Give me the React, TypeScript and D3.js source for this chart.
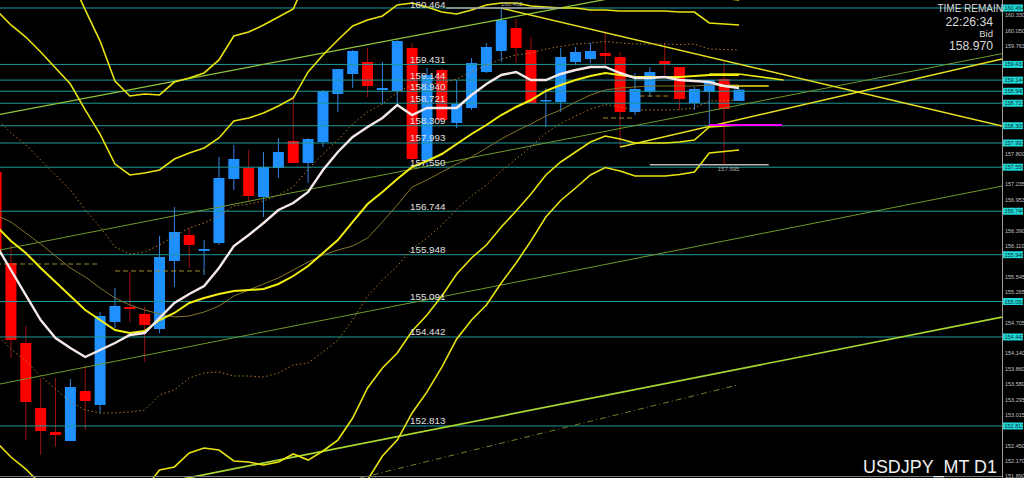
import React from "react";
import * as d3 from "d3";

// ---------- DATA ----------
const candleIndex = d3.range(-1, 50);

const opens = [157.462, 155.796, 154.332, 153.142, 152.703, 152.538, 153.453, 153.197, 154.716, 154.991,
  154.863, 154.588, 155.833, 156.309, 156.016, 156.162, 157.334, 157.535, 157.004, 157.535,
  158.029, 157.627, 158.011, 158.890, 159.256, 159.476, 158.963, 158.945, 159.732, 157.682,
  159.329, 158.359, 158.633, 159.292, 159.677, 160.098, 159.695, 158.762, 158.743, 159.476,
  159.530, 159.640, 159.567, 158.560, 158.926, 159.494, 159.384, 158.725, 158.926, 159.164, 158.762];
const highs = [157.535, 156.126, 154.643, 153.691, 153.691, 153.673, 153.929, 154.899, 155.339, 155.631,
  154.991, 156.290, 156.821, 156.437, 156.217, 157.737, 157.956, 157.865, 157.828, 158.084,
  158.853, 158.084, 158.963, 159.347, 159.695, 159.732, 159.476, 159.878, 159.823, 159.366,
  159.366, 159.146, 159.549, 159.823, 160.462, 160.263, 159.933, 159.000, 159.732, 159.750,
  159.823, 160.025, 159.659, 159.274, 159.384, 159.823, 159.384, 159.018, 159.146, 159.476, 158.985];
const lows = [155.888, 154.057, 152.556, 152.282, 152.428, 152.538, 152.739, 153.050, 154.606, 154.716,
  153.984, 154.515, 155.357, 155.705, 155.577, 156.126, 157.132, 156.913, 156.638, 157.352,
  157.627, 157.261, 157.920, 158.560, 159.000, 158.835, 158.725, 158.725, 157.627, 157.554,
  158.377, 158.267, 158.597, 159.274, 159.476, 159.457, 158.707, 158.286, 158.560, 159.421,
  159.457, 159.384, 157.920, 158.505, 158.835, 159.238, 158.597, 158.597, 158.322, 157.595, 158.762];
const closes = [155.998, 154.387, 153.252, 152.721, 152.648, 153.526, 153.270, 154.826, 155.009, 154.954,
  154.661, 155.906, 156.364, 156.126, 156.052, 157.352, 157.700, 157.023, 157.554, 157.828,
  157.627, 158.066, 158.945, 159.347, 159.677, 159.036, 159.000, 159.860, 157.700, 159.238,
  158.414, 158.707, 159.457, 159.750, 160.244, 159.732, 158.725, 158.780, 159.567, 159.659,
  159.677, 159.585, 158.560, 158.981, 159.292, 159.439, 158.798, 158.981, 159.146, 158.615, 158.970];

// Bollinger middle line and standard deviation (price units)
const bbMid = [156.474, 156.199, 155.979, 155.705, 155.448, 155.192, 154.936, 154.753, 154.570, 154.515,
  154.551, 154.753, 154.881, 155.064, 155.156, 155.229, 155.284, 155.302, 155.320, 155.412,
  155.558, 155.741, 155.979, 156.217, 156.547, 156.876, 157.096, 157.334, 157.554, 157.663,
  157.791, 157.975, 158.158, 158.322, 158.505, 158.652, 158.780, 158.945, 159.055, 159.146,
  159.219, 159.274, 159.238, 159.201, 159.201, 159.201, 159.201, 159.219, 159.238, 159.238, 159.238];
const bbSd = [1.977, 1.977, 1.977, 1.977, 1.959, 1.940, 1.831, 1.702, 1.519, 1.446,
  1.446, 1.373, 1.409, 1.373, 1.373, 1.428, 1.556, 1.574, 1.611, 1.629,
  1.629, 1.776, 1.812, 1.831, 1.794, 1.684, 1.611, 1.593, 1.501, 1.409,
  1.300, 1.190, 1.135, 1.098, 1.025, 0.952, 0.860, 0.769, 0.705, 0.659,
  0.604, 0.577, 0.586, 0.604, 0.604, 0.604, 0.595, 0.586, 0.476, 0.467, 0.458];

// short moving average (white) and a slower one (olive)
const maFast = [156.126, 155.668, 155.210, 154.753, 154.423, 154.240, 154.076, 154.204, 154.332, 154.478,
  154.515, 154.789, 155.064, 155.229, 155.375, 155.705, 156.107, 156.309, 156.528, 156.766,
  156.895, 157.096, 157.499, 157.828, 158.103, 158.286, 158.450, 158.688, 158.505, 158.633,
  158.633, 158.633, 158.871, 159.073, 159.238, 159.292, 159.146, 159.146, 159.256, 159.329,
  159.384, 159.384, 159.274, 159.183, 159.183, 159.201, 159.146, 159.128, 159.109, 159.036, 159.000];
const maSlow = [156.675, 156.547, 156.345, 156.144, 155.924, 155.705, 155.540, 155.339, 155.156, 155.027,
  154.936, 154.863, 154.808, 154.826, 154.899, 155.009, 155.192, 155.302, 155.412, 155.522,
  155.668, 155.815, 155.943, 156.034, 156.107, 156.254, 156.547, 156.858, 157.187, 157.316,
  157.462, 157.608, 157.737, 157.901, 158.066, 158.212, 158.341, 158.487, 158.597, 158.743,
  158.871, 158.963, 159.000, 159.018, 159.036, 159.036, 159.036, 159.036, 159.055, 159.055, 159.055];

// horizontal price levels
const levels = [160.464, 159.431, 159.144, 158.940, 158.721, 158.309, 157.993, 157.550, 156.744, 155.948, 155.091, 154.442, 152.813];

// price axis tick labels
const axisTicks = ["151.890", "152.170", "152.450", "152.735", "153.015", "153.295", "153.580", "153.860",
  "154.140", "154.425", "154.705", "154.985", "155.265", "155.545", "155.830", "156.110", "156.390",
  "156.670", "156.953", "157.235", "157.520", "157.800", "158.080", "158.365", "158.640", "158.925",
  "159.205", "159.490", "159.763", "160.050", "160.330"];

// trend lines: [index, price] end points
const trendUpperGreen: [number, number][] = [[-1, 158.502], [66.7, 162.0]];
const trendMidGreen: [number, number][] = [[-1, 156.020], [66.7, 159.629]];
const trendLowGreen: [number, number][] = [[-1, 153.567], [66.7, 157.204]];
const trendBottomGreen: [number, number][] = [[-1, 151.169], [66.7, 154.806]];
const trendDashed: [number, number][] = [[23.5, 151.861], [48.9, 153.563]];
const trendResistance: [number, number][] = [[33, 160.462], [66.7, 158.302]];
const trendSupport: [number, number][] = [[41, 157.920], [66.7, 159.530]];
const projA: [number, number][] = [[47, 159.256], [49, 159.256], [52, 159.146]];
const projB: [number, number][] = [[47.7, 159.036], [51, 159.036]];
const stepSegments: [number, number][][] = [
  [[-1, 155.778], [6, 155.778]],
  [[7, 155.650], [13, 155.650]],
  [[39.85, 158.450], [41.86, 158.450]],
  [[42.3, 158.853], [44.4, 158.853]],
];
const highMark = { from: 29.3, to: 37.1, price: 160.462 };
const lowMark = { from: 43, to: 51, price: 157.595 };
const magentaMark = { from: 47, to: 51.9, price: 158.322 };

const bidPrice = 158.970;
const timeRemain = "22:26:34";
const symbolLabel = "USDJPY_MT D1";

// ---------- CHART ----------
export default function App() {
  const W = 1024, H = 478, RIGHT = 1002;
  const FONT = "'Liberation Sans', Arial, sans-serif";
  const x = d3.scaleLinear().domain([-1, 49]).range([-3.9, 739]);
  const y = d3.scaleLinear().domain([151.8606, 160.6104]).range([H, 0]);
  const line = d3.line<[number, number]>().x(d => x(d[0])).y(d => y(d[1]));
  const series = (vals: number[]) => line(candleIndex.map((i, k) => [i, vals[k]] as [number, number])) || "";
  const band = (m: number) => line(candleIndex.map((i, k) => [i, bbMid[k] + m * bbSd[k]] as [number, number])) || "";
  const fmt = d3.format(".3f");
  const bodyW = 11;
  const visibleTicks = axisTicks.filter(t => levels.every(l => Math.abs(y(+t) - y(l)) > 6.5));

  return (
    <div style={{ position: "fixed", left: 0, top: 0, width: W, height: H, background: "#000" }}>
      <svg width={W} height={H} style={{ display: "block" }}>
        <defs>
          <clipPath id="plot"><rect x={0} y={0} width={RIGHT} height={H} /></clipPath>
        </defs>
        <rect x={0} y={0} width={W} height={H} fill="#000" />
        <g clipPath="url(#plot)">
          {/* candles */}
          {candleIndex.map((i, k) => {
            const up = closes[k] >= opens[k];
            const top = y(Math.max(opens[k], closes[k]));
            const bot = y(Math.min(opens[k], closes[k]));
            const cx = x(i);
            return (
              <g key={i}>
                <line x1={cx} x2={cx} y1={y(highs[k])} y2={y(lows[k])} stroke={up ? "#2f86e0" : "#9a1010"} strokeWidth={1} />
                <rect x={cx - bodyW / 2} y={top} width={bodyW} height={Math.max(1.5, bot - top)} fill={up ? "#1e90ff" : "#ff0000"} />
              </g>
            );
          })}

          {/* level lines */}
          {levels.map(l => (
            <line key={l} x1={0} x2={RIGHT} y1={y(l)} y2={y(l)} stroke="#1f9a9a" strokeWidth={1} />
          ))}

          {/* trend lines */}
          <path d={line(trendUpperGreen) || ""} stroke="#8fc83a" strokeWidth={1.3} fill="none" />
          <path d={line(trendMidGreen) || ""} stroke="#6f9a2a" strokeWidth={1} fill="none" />
          <path d={line(trendLowGreen) || ""} stroke="#6f9a2a" strokeWidth={1} fill="none" />
          <path d={line(trendBottomGreen) || ""} stroke="#a8d830" strokeWidth={1.7} fill="none" />
          <path d={line(trendDashed) || ""} stroke="#7d7a2c" strokeWidth={1} strokeDasharray="6,3,1,3" fill="none" />
          <path d={line(trendResistance) || ""} stroke="#e6e020" strokeWidth={1.5} fill="none" />
          <path d={line(trendSupport) || ""} stroke="#e6e020" strokeWidth={1.5} fill="none" />

          {/* step dashed lines */}
          {stepSegments.map((s, k) => (
            <path key={k} d={line(s) || ""} stroke="#9c8a2c" strokeWidth={1.2} strokeDasharray="5,3" fill="none" />
          ))}

          {/* Bollinger bands */}
          <path d={band(1)} stroke="#b07a28" strokeWidth={1} strokeDasharray="1.5,2.5" fill="none" />
          <path d={band(-1)} stroke="#b07a28" strokeWidth={1} strokeDasharray="1.5,2.5" fill="none" />
          <path d={band(2)} stroke="#e8e410" strokeWidth={1.6} fill="none" />
          <path d={band(-2)} stroke="#e8e410" strokeWidth={1.6} fill="none" />
          <path d={band(3)} stroke="#e8e410" strokeWidth={1.6} fill="none" />
          <path d={band(-3)} stroke="#e8e410" strokeWidth={1.6} fill="none" />
          <path d={series(maSlow)} stroke="#857528" strokeWidth={1} fill="none" />
          <path d={band(0)} stroke="#f2ee10" strokeWidth={2} fill="none" />
          <path d={line(projA) || ""} stroke="#e8e410" strokeWidth={1.6} fill="none" />
          <path d={line(projB) || ""} stroke="#e8e410" strokeWidth={1.6} fill="none" />
          <path d={series(maFast)} stroke="#f4e8e8" strokeWidth={2.4} fill="none" />

          {/* high / low markers */}
          <line x1={x(highMark.from)} x2={x(highMark.to)} y1={y(highMark.price)} y2={y(highMark.price)} stroke="#a8a8a8" strokeWidth={1.5} />
          <text x={x((highMark.from + highMark.to) / 2 + 0.5)} y={y(highMark.price) - 2} fontSize={6} fill="#b0b0b0" fontFamily={FONT} textAnchor="middle">{fmt(highMark.price)}</text>
          <line x1={x(lowMark.from)} x2={x(lowMark.to)} y1={y(lowMark.price)} y2={y(lowMark.price)} stroke="#b8b8b8" strokeWidth={1.5} />
          <text x={x(lowMark.from + 5.3)} y={y(lowMark.price) + 6} fontSize={6} fill="#b0b0b0" fontFamily={FONT} textAnchor="middle">{fmt(lowMark.price)}</text>
          <line x1={x(magentaMark.from)} x2={x(magentaMark.to)} y1={y(magentaMark.price)} y2={y(magentaMark.price)} stroke="#ff00ff" strokeWidth={2} />

          {/* level labels */}
          {levels.map(l => (
            <text key={l} x={410} y={Math.max(7.5, y(l) - 1.5)} fontSize={9.8} fill="#e0e0e0" fontFamily={FONT}>{fmt(l)}</text>
          ))}
        </g>

        {/* frame */}
        <line x1={RIGHT + 0.5} x2={RIGHT + 0.5} y1={0} y2={H} stroke="#9a9a9a" strokeWidth={1} />
        <line x1={0} x2={RIGHT} y1={H - 1.5} y2={H - 1.5} stroke="#7a7a7a" strokeWidth={1} />

        {/* price axis */}
        {visibleTicks.map(t => (
          <text key={t} x={1005} y={y(+t) + 2} fontSize={5.5} fill="#c0c0c0" fontFamily={FONT}>{t}</text>
        ))}
        {levels.map(l => (
          <g key={l}>
            <rect x={RIGHT + 1} y={y(l) - 3.5} width={20} height={7} fill="#20d8d8" />
            <text x={RIGHT + 2.5} y={y(l) + 2} fontSize={5.5} fill="#003030" fontFamily={FONT}>{fmt(l)}</text>
          </g>
        ))}

        {/* info texts */}
        <text x={1003} y={12} fontSize={10} fill="#d8d8d8" fontFamily={FONT} textAnchor="end">TIME REMAIN</text>
        <text x={993} y={25.5} fontSize={12.2} fill="#d8d8d8" fontFamily={FONT} textAnchor="end">{timeRemain}</text>
        <text x={993} y={37} fontSize={9.5} fill="#d8d8d8" fontFamily={FONT} textAnchor="end">Bid</text>
        <text x={993} y={50} fontSize={12.2} fill="#d8d8d8" fontFamily={FONT} textAnchor="end">{fmt(bidPrice)}</text>
        <text x={863} y={473} fontSize={18} fill="#f0f0f0" fontFamily={FONT} textLength={134} lengthAdjust="spacingAndGlyphs">{symbolLabel}</text>
      </svg>
    </div>
  );
}
